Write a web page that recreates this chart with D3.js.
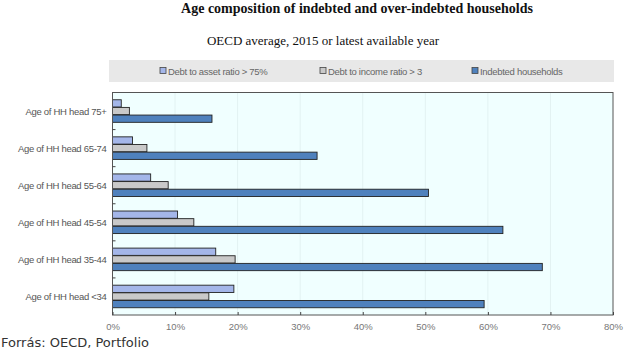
<!DOCTYPE html>
<html><head><meta charset="utf-8">
<script src="https://cdn.jsdelivr.net/npm/d3@7"></script>
<style>body{margin:0;background:#fff}svg{display:block}</style>
</head><body>
<script>
const categories = ["Age of HH head 75+","Age of HH head 65-74","Age of HH head 55-64","Age of HH head 45-54","Age of HH head 35-44","Age of HH head <34"];
const seriesNames = ["Debt to asset ratio > 75%","Debt to income ratio > 3","Indebted households"];
const debtToAsset = [1.4, 3.2, 6.1, 10.4, 16.5, 19.4];
const debtToIncome = [2.7, 5.5, 8.9, 13.0, 19.6, 15.4];
const indebted = [15.9, 32.7, 50.5, 62.4, 68.7, 59.4];
const xTicks = [0,10,20,30,40,50,60,70,80];
const colors = ["#a4b6e9","#c9c9c9","#4f81bd"];

const W=640,H=349;
const svg=d3.select("body").append("svg").attr("width",W).attr("height",H);
const m={l:112.5,r:613,t:92.5,b:315};
const x=d3.scaleLinear().domain([0,80]).range([m.l,m.r]);
const y=d3.scaleBand().domain(categories).range([m.t,m.b]);
const inner=d3.scaleBand().domain([0,1,2]).range([0,y.bandwidth()]).paddingOuter(0.95).paddingInner(0.05);

svg.append("text").attr("x",357).attr("y",13).attr("text-anchor","middle")
 .attr("font-family","Liberation Serif, Times New Roman, serif").attr("font-weight","bold").attr("font-size",14).attr("fill","#111")
 .text("Age composition of indebted and over-indebted households");
svg.append("text").attr("x",323).attr("y",45).attr("text-anchor","middle")
 .attr("font-family","Liberation Serif, Times New Roman, serif").attr("font-size",13).attr("fill","#111")
 .text("OECD average, 2015 or latest available year");

// legend
svg.append("rect").attr("x",109).attr("y",60).attr("width",505).attr("height",22).attr("fill","#e8e8e8");
const legX=[160,320,472];
seriesNames.forEach((s,i)=>{
  svg.append("rect").attr("x",legX[i]).attr("y",67.5).attr("width",6).attr("height",6).attr("fill",colors[i]).attr("stroke","#444").attr("stroke-width",0.8);
  svg.append("text").attr("x",legX[i]+8).attr("y",74.5).attr("font-family","Liberation Sans, Arial, sans-serif").attr("font-size",9.5).attr("fill","#666").attr("letter-spacing",-0.3).text(s);
});

// plot bg
svg.append("rect").attr("x",m.l).attr("y",m.t).attr("width",m.r-m.l).attr("height",m.b-m.t).attr("fill","#f0ffff");
svg.append("g").selectAll("line").data(xTicks.slice(1,-1)).join("line")
 .attr("x1",d=>x(d)).attr("x2",d=>x(d)).attr("y1",m.t).attr("y2",m.b).attr("stroke","#e2f2f2").attr("stroke-width",1);

const series=[debtToAsset,debtToIncome,indebted];
const g=svg.append("g");
series.forEach((vals,si)=>{
  g.selectAll(null).data(vals).join("rect")
   .attr("x",x(0)).attr("y",(d,i)=>y(categories[i])+inner(si))
   .attr("width",d=>x(d)-x(0)).attr("height",inner.bandwidth())
   .attr("fill",colors[si]).attr("stroke","#222").attr("stroke-width",0.9);
});

// border
svg.append("rect").attr("x",m.l).attr("y",m.t).attr("width",m.r-m.l).attr("height",m.b-m.t).attr("fill","none").attr("stroke","#555").attr("stroke-width",1);

// x axis
const xa=svg.append("g").attr("transform",`translate(0,${m.b})`).call(d3.axisBottom(x).tickValues(xTicks).tickFormat(d=>d+"%").tickSizeInner(-3).tickSizeOuter(0).tickPadding(8));
xa.select(".domain").remove();
xa.selectAll("line").attr("stroke","#444");
xa.selectAll("text").attr("font-family","Liberation Sans, Arial, sans-serif").attr("font-size",9.5).attr("fill","#777");

// y axis labels
const ya=svg.append("g").attr("transform",`translate(${m.l},0)`).call(d3.axisLeft(y).tickSize(0).tickPadding(6));
ya.select(".domain").remove();
ya.selectAll("text").attr("font-family","Liberation Sans, Arial, sans-serif").attr("font-size",9.5).attr("fill","#555").attr("letter-spacing",-0.3)
 .attr("dy","0.4em");
// category separator ticks
svg.append("g").selectAll("line").data(categories.slice(1)).join("line")
 .attr("x1",m.l).attr("x2",m.l+3).attr("y1",d=>y(d)).attr("y2",d=>y(d)).attr("stroke","#444");

svg.append("text").attr("x",1).attr("y",346.5).attr("font-family","DejaVu Sans, sans-serif").attr("font-size",13).attr("fill","#333").text("Forrás: OECD, Portfolio");
</script>
</body></html>
